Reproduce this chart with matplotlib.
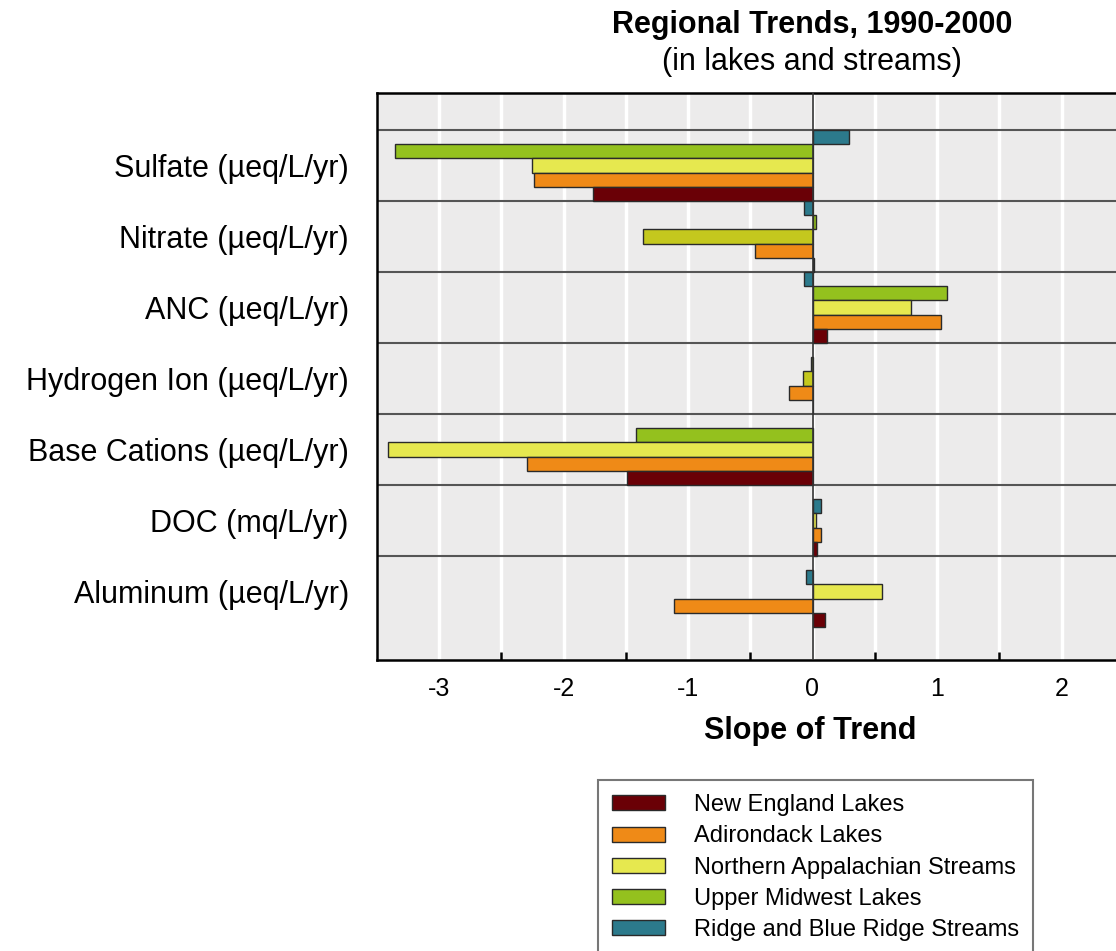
import numpy as np
import matplotlib
matplotlib.use("Agg")
import matplotlib.pyplot as plt
from matplotlib.patches import Patch

plt.rcParams['font.family'] = ['Liberation Sans', 'DejaVu Sans']

categories = ["Sulfate (µeq/L/yr)", "Nitrate (µeq/L/yr)", "ANC (µeq/L/yr)",
              "Hydrogen Ion (µeq/L/yr)", "Base Cations (µeq/L/yr)",
              "DOC (mq/L/yr)", "Aluminum (µeq/L/yr)"]

# series listed top-to-bottom within each group (nan = no bar)
series = ["Ridge and Blue Ridge Streams", "Upper Midwest Lakes",
          "Northern Appalachian Streams", "Adirondack Lakes", "New England Lakes"]
ridge = [0.29, -0.07, -0.07, np.nan, np.nan, 0.07, -0.05]
upper_midwest = [-3.35, 0.03, 1.08, -0.01, -1.42, np.nan, np.nan]
north_app = [-2.25, -1.36, 0.79, -0.08, -3.41, 0.03, 0.56]
adirondack = [-2.24, -0.46, 1.03, -0.19, -2.29, 0.07, -1.11]
new_england = [-1.76, 0.01, 0.12, 0.0, -1.49, 0.04, 0.10]
values = [ridge, upper_midwest, north_app, adirondack, new_england]

colors = ["#2c7a8c", "#94c11e", "#e6e84f", "#ef8a17", "#6a0006"]
olive = "#c4c81e"
# Northern Appalachian bars drawn olive in Nitrate and Hydrogen Ion rows
napp_colors = [colors[2], olive, colors[2], olive, colors[2], colors[2], colors[2]]

fig = plt.figure(figsize=(11.16, 9.51), dpi=100)
ax = fig.add_axes([376.75 / 1116, 1 - 660 / 951, 6 * 124.5 / 1116, 567 / 951])
ax.set_facecolor("#ecebeb")

bar_h = 0.2
n_cat = len(categories)
for i in range(n_cat):
    present = [s for s in range(len(series)) if not np.isnan(values[s][i])]
    start = 5 - len(present)
    for j, s in enumerate(present):
        y = i + bar_h / 2 + bar_h * (start + j)
        c = napp_colors[i] if s == 2 else colors[s]
        ax.barh(y, values[s][i], height=bar_h, color=c,
                edgecolor="#2a2a2a", linewidth=1.0, zorder=3)

ax.set_xlim(-3.5, 2.5)
ax.set_ylim(n_cat + 0.465, -0.52)

# white vertical grid every 0.5
for gx in np.arange(-3.0, 2.51, 0.5):
    ax.axvline(gx, color="white", lw=2.5, zorder=1)
# group separators
for gy in range(n_cat):
    ax.axhline(gy, color="#555555", lw=1.5, zorder=2)
ax.axvline(0, color="#333333", lw=1.2, zorder=4)

ax.set_yticks([])
ax.set_xticks(np.arange(-3, 3, 1))
ax.set_xticklabels(["-3", "-2", "-1", "0", "1", "2"], fontsize=18)
ax.tick_params(axis='x', which='major', length=0, pad=12)
ax.set_xticks([-2.5, -1.5, -0.5, 0, 0.5, 1.5, 2.5], minor=True)
ax.tick_params(axis='x', which='minor', direction='in', length=6, width=1.8)

for sp in ["left", "bottom", "top"]:
    ax.spines[sp].set_linewidth(1.8)
ax.spines["right"].set_visible(False)

for i, lab in enumerate(categories):
    ax.text(-3.5 - 28 / 124.5, i + 0.55, lab, ha="right", va="center", fontsize=22)

fig.text(810 / 1116, 1 - 731 / 951, "Slope of Trend", ha="center", va="center",
         fontsize=22, fontweight="bold")

fig.text(812 / 1116, 1 - 25 / 951, "Regional Trends, 1990-2000", ha="center", va="center",
         fontsize=22, fontweight="bold")
fig.text(812 / 1116, 1 - 62 / 951, "(in lakes and streams)", ha="center", va="center",
         fontsize=22)

handles = [Patch(facecolor=colors[s], edgecolor="#2a2a2a", linewidth=1.0, label=series[s])
           for s in range(len(series) - 1, -1, -1)]
leg = fig.legend(handles=handles, loc="upper left", bbox_to_anchor=(598 / 1116, 1 - 780 / 951),
                 fontsize=17, frameon=True, fancybox=False, edgecolor="#555555",
                 handlelength=2.25, handleheight=0.6, handletextpad=1.2,
                 labelspacing=0.39, borderpad=0.6, borderaxespad=0)
leg.get_frame().set_linewidth(1.5)

fig.savefig("out.png", dpi=100)
